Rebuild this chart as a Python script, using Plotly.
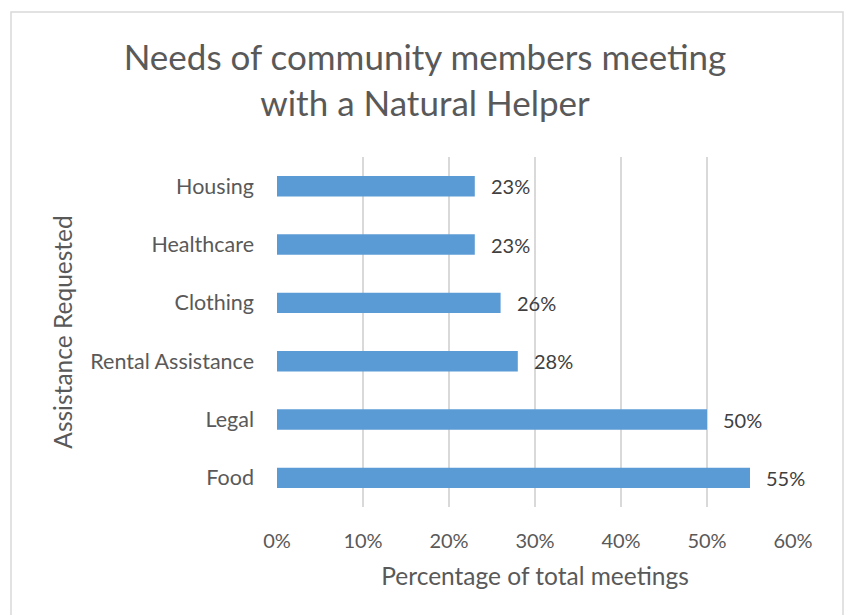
import plotly.graph_objects as go

categories = ["Food", "Legal", "Rental Assistance", "Clothing", "Healthcare", "Housing"]
values = [0.55, 0.50, 0.28, 0.26, 0.23, 0.23]
labels = ["55%", "50%", "28%", "26%", "23%", "23%"]
x_ticks = [0, 0.1, 0.2, 0.3, 0.4, 0.5, 0.6]
x_tick_labels = ["0%", "10%", "20%", "30%", "40%", "50%", "60%"]

FONT = "Lato, Calibri, sans-serif"
GRAY = "#595959"

fig = go.Figure(go.Bar(
    y=categories, x=values, orientation="h",
    marker=dict(color="#5B9BD5", line=dict(width=0)),
    hoverinfo="skip",
))

annotations = [
    dict(x=v, y=c, text=t, xref="x", yref="y", xanchor="left", yanchor="middle",
         xshift=14, showarrow=False, font=dict(family=FONT, size=20, color="#404040"))
    for c, v, t in zip(categories, values, labels)
]

fig.update_layout(
    width=846, height=615,
    margin=dict(l=277, r=53, t=157, b=108),
    paper_bgcolor="white", plot_bgcolor="white",
    bargap=0.65,
    showlegend=False,
    font=dict(family=FONT, color=GRAY),
    title=dict(text="Needs of community members meeting<br>with a Natural Helper",
               x=425 / 846, xref="container", xanchor="center",
               y=1 - 70 / 615, yref="container", yanchor="middle",
               font=dict(family=FONT, size=35, color=GRAY)),
    xaxis=dict(range=[0, 0.6], tickvals=x_ticks, ticktext=x_tick_labels,
               showgrid=True, gridcolor="#D9D9D9", gridwidth=1.5,
               zeroline=False, showline=False, ticks="",
               ticklabelstandoff=20,
               tickfont=dict(family=FONT, size=20, color=GRAY),
               title=dict(text="Percentage of total meetings", standoff=16,
                          font=dict(family=FONT, size=24.5, color=GRAY))),
    yaxis=dict(showgrid=False, zeroline=False, showline=False, ticks="",
               ticklabelstandoff=22,
               tickfont=dict(family=FONT, size=21.5, color=GRAY),
               title=dict(text="Assistance Requested", standoff=10,
                          font=dict(family=FONT, size=24.5, color=GRAY))),
    annotations=annotations,
    shapes=[dict(type="rect", xref="paper", yref="paper",
                 x0=(11 - 277) / 516, x1=(843 - 277) / 516,
                 y0=-0.35, y1=(507 - 12) / 350,
                 line=dict(color="#D9D9D9", width=1.5), layer="below")],
)

fig.write_html("out.html", config={"displayModeBar": False},
               post_script="document.body.style.margin='0';")
